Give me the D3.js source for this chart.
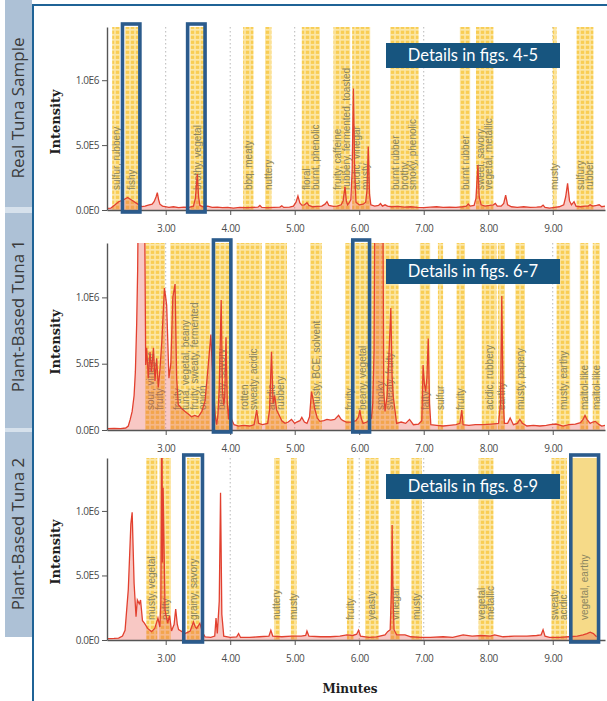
<!DOCTYPE html>
<html><head><meta charset="utf-8">
<script src="https://cdn.jsdelivr.net/npm/d3@7"></script>
<style>body{margin:0;background:#fff;} svg{display:block;}</style>
</head><body>
<script>
// ---------------- DATA ----------------
const minutes = [3, 4, 5, 6, 7, 8, 9];
const minuteLabels = ["3.00", "4.00", "5.00", "6.00", "7.00", "8.00", "9.00"];
const yTickValues = [0, 5, 10];               // intensity in units of 1E5
const yTickLabels = ["0.0E0", "5.0E5", "1.0E6"];
const sampleNames = ["Real Tuna Sample", "Plant-Based Tuna 1", "Plant-Based Tuna 2"];
const detailTexts = ["Details in figs. 4-5", "Details in figs. 6-7", "Details in figs. 8-9"];

// chromatogram traces: [minutes, intensity / 1E5]
const trace1 = [[2.09,0.12],[2.15,0.15],[2.21,0.38],[2.27,0.64],[2.34,0.77],[2.41,0.97],[2.47,0.77],[2.55,0.51],[2.63,0.26],[2.68,0.3],[2.73,0.38],[2.79,0.45],[2.82,0.64],[2.85,1.0],[2.87,1.33],[2.89,0.8],[2.91,0.45],[2.95,0.3],[2.99,0.26],[3.05,0.2],[3.12,0.25],[3.2,0.18],[3.28,0.22],[3.36,0.2],[3.43,0.3],[3.46,0.9],[3.49,2.77],[3.51,1.0],[3.53,0.35],[3.58,0.25],[3.65,0.3],[3.72,0.2],[3.8,0.22],[3.88,0.18],[3.96,0.2],[4.05,0.15],[4.15,0.2],[4.25,0.18],[4.35,0.2],[4.43,0.22],[4.46,0.35],[4.49,0.2],[4.58,0.18],[4.68,0.2],[4.77,0.22],[4.8,0.32],[4.83,0.2],[4.92,0.22],[4.98,0.3],[5.02,0.6],[5.05,1.08],[5.08,0.55],[5.11,0.38],[5.15,0.4],[5.19,0.56],[5.22,0.35],[5.28,0.25],[5.35,0.28],[5.42,0.3],[5.47,0.45],[5.5,0.64],[5.53,0.35],[5.6,0.28],[5.66,0.3],[5.72,0.4],[5.75,0.7],[5.78,1.8],[5.8,0.7],[5.82,0.4],[5.85,0.6],[5.87,0.8],[5.89,3.0],[5.91,9.36],[5.93,3.0],[5.95,0.6],[6.0,0.4],[6.06,0.45],[6.1,0.6],[6.12,1.5],[6.14,4.9],[6.16,1.2],[6.18,0.4],[6.24,0.3],[6.3,0.35],[6.33,0.5],[6.36,0.3],[6.4,0.4],[6.44,0.3],[6.5,0.25],[6.6,0.28],[6.7,0.22],[6.8,0.25],[6.9,0.2],[7.0,0.18],[7.1,0.22],[7.2,0.25],[7.3,0.2],[7.4,0.22],[7.5,0.2],[7.6,0.25],[7.66,0.3],[7.69,0.46],[7.72,0.3],[7.78,0.35],[7.81,0.9],[7.84,3.46],[7.86,1.0],[7.89,0.4],[7.95,0.3],[8.02,0.35],[8.08,0.4],[8.11,0.51],[8.14,0.3],[8.2,0.3],[8.24,0.5],[8.27,1.15],[8.3,0.4],[8.36,0.25],[8.45,0.2],[8.55,0.25],[8.65,0.2],[8.75,0.22],[8.82,0.25],[8.85,0.38],[8.88,0.2],[8.95,0.15],[9.03,0.2],[9.1,0.25],[9.17,0.4],[9.2,1.0],[9.23,2.05],[9.26,0.7],[9.29,0.4],[9.33,0.64],[9.36,0.3],[9.43,0.25],[9.5,0.3],[9.55,0.3],[9.58,0.4],[9.62,0.3],[9.68,0.35],[9.72,0.4],[9.76,0.25],[9.81,0.3]];

const trace2 = [[2.09,0.1],[2.2,0.12],[2.3,0.1],[2.38,0.15],[2.42,0.3],[2.45,0.8],[2.48,1.4],[2.51,2.6],[2.53,4.4],[2.55,8.0],[2.565,12.0],[2.58,20],[2.62,30],[2.66,25],[2.68,12],[2.69,4.9],[2.705,6.2],[2.73,3.9],[2.757,5.9],[2.78,4.4],[2.81,6.2],[2.834,3.7],[2.86,5.4],[2.885,3.2],[2.91,4.5],[2.94,6.7],[2.98,10.7],[3.0,10.0],[3.015,9.4],[3.05,3.9],[3.08,5.0],[3.11,10.0],[3.145,11.0],[3.17,3.9],[3.195,1.9],[3.25,1.6],[3.3,1.4],[3.35,1.2],[3.4,1.0],[3.45,1.1],[3.505,1.0],[3.56,1.4],[3.61,2.2],[3.66,4.9],[3.70,7.2],[3.72,5.0],[3.74,3.2],[3.77,1.0],[3.79,0.4],[3.81,1.2],[3.83,3.2],[3.86,9.8],[3.88,3.0],[3.9,1.9],[3.915,2.5],[3.935,7.0],[3.955,2.0],[3.975,0.8],[4.0,2.9],[4.02,0.8],[4.06,0.4],[4.13,0.3],[4.2,0.35],[4.3,0.3],[4.37,0.4],[4.41,1.5],[4.44,0.5],[4.5,0.4],[4.58,0.5],[4.61,1.5],[4.64,5.9],[4.665,2.0],[4.69,2.6],[4.72,1.5],[4.75,1.2],[4.8,0.7],[4.85,0.5],[4.9,0.6],[4.95,0.8],[5.0,0.5],[5.03,0.6],[5.08,0.7],[5.11,0.95],[5.15,0.6],[5.19,0.5],[5.23,1.0],[5.26,2.9],[5.29,2.2],[5.31,1.6],[5.35,0.9],[5.39,0.65],[5.45,0.7],[5.5,0.8],[5.56,0.75],[5.62,0.8],[5.68,1.1],[5.72,0.8],[5.75,0.7],[5.8,0.6],[5.88,0.6],[5.95,0.7],[5.99,1.0],[6.01,1.5],[6.03,0.9],[6.06,0.5],[6.12,0.6],[6.19,0.9],[6.21,2.0],[6.23,6.0],[6.25,25],[6.28,40],[6.33,40],[6.36,25],[6.38,3.0],[6.40,1.4],[6.43,2.5],[6.45,4.4],[6.49,9.2],[6.51,4.0],[6.53,2.4],[6.58,0.5],[6.65,0.6],[6.72,0.5],[6.78,0.8],[6.84,0.4],[6.92,0.45],[6.97,0.7],[6.99,4.9],[7.01,3.5],[7.03,2.9],[7.05,4.0],[7.07,6.9],[7.09,2.0],[7.11,0.4],[7.2,0.35],[7.3,0.3],[7.4,0.35],[7.5,0.4],[7.56,0.5],[7.59,1.5],[7.61,0.4],[7.7,0.35],[7.8,0.4],[7.92,0.4],[8.05,0.45],[8.16,0.5],[8.19,2.0],[8.21,10.1],[8.23,2.5],[8.25,0.5],[8.3,0.5],[8.34,0.9],[8.39,0.4],[8.45,0.5],[8.49,0.8],[8.53,0.5],[8.6,0.3],[8.7,0.35],[8.8,0.3],[8.9,0.35],[8.96,0.4],[9.05,0.45],[9.16,0.3],[9.25,0.4],[9.35,0.45],[9.43,0.55],[9.47,0.8],[9.5,1.1],[9.53,0.8],[9.58,0.5],[9.62,0.6],[9.66,0.65],[9.72,0.4],[9.76,0.3],[9.81,0.35]];

const trace3 = [[2.09,0.1],[2.2,0.12],[2.27,0.15],[2.33,0.3],[2.37,0.75],[2.42,3.9],[2.46,9.0],[2.48,9.9],[2.51,4.4],[2.54,1.8],[2.56,3.1],[2.59,2.8],[2.61,3.1],[2.64,1.5],[2.67,1.3],[2.72,0.9],[2.78,0.65],[2.83,0.9],[2.88,1.7],[2.91,1.0],[2.925,3.0],[2.94,20],[2.95,6.0],[2.96,11.8],[2.99,2.3],[3.03,1.3],[3.06,1.9],[3.09,0.7],[3.13,1.2],[3.155,2.4],[3.18,1.2],[3.2,0.8],[3.3,0.5],[3.38,0.7],[3.43,1.4],[3.46,1.0],[3.48,0.9],[3.53,1.3],[3.57,0.6],[3.61,0.25],[3.7,0.2],[3.76,0.3],[3.78,1.7],[3.8,0.5],[3.83,3.0],[3.85,11.4],[3.87,2.0],[3.9,0.3],[4.0,0.2],[4.1,0.25],[4.13,0.5],[4.16,0.2],[4.3,0.2],[4.45,0.25],[4.6,0.3],[4.63,0.75],[4.66,0.3],[4.8,0.25],[4.95,0.3],[5.1,0.3],[5.17,0.35],[5.19,0.7],[5.22,0.3],[5.4,0.25],[5.55,0.25],[5.7,0.3],[5.81,0.4],[5.9,0.35],[5.96,0.45],[5.99,0.75],[6.02,0.3],[6.15,0.2],[6.27,0.25],[6.4,0.4],[6.44,0.65],[6.48,0.8],[6.50,4.0],[6.51,8.9],[6.525,3.0],[6.54,0.8],[6.58,0.4],[6.71,0.4],[6.8,0.25],[6.95,0.2],[7.1,0.2],[7.3,0.25],[7.45,0.2],[7.61,0.4],[7.75,0.3],[7.9,0.35],[8.03,0.3],[8.1,0.4],[8.23,0.25],[8.4,0.3],[8.6,0.3],[8.75,0.35],[8.82,0.4],[8.85,0.8],[8.88,0.3],[8.95,0.2],[9.1,0.2],[9.25,0.25],[9.38,0.3],[9.47,0.4],[9.53,0.5],[9.58,0.6],[9.63,0.5],[9.68,0.25]];

// odor bands: [start min, end min, label lines]
const bands1 = [
  [2.17,2.29,["sulfur, rubbery"]],
  [2.37,2.58,["fishy"]],
  [3.38,3.61,["brothy, vegetal"]],
  [4.20,4.36,["bbq, meaty"]],
  [4.54,4.64,["nuttery"]],
  [5.11,5.39,["floral","burnt, phenolic"]],
  [5.60,5.86,["fruity, caffeine","rubbery, fermented, toasted"]],
  [5.89,6.17,["acidic, vinegar","musty"]],
  [6.48,6.92,["burnt rubber","brothy,","smoky, phenolic"]],
  [7.56,7.72,["burnt rubber"]],
  [7.81,8.08,["sweet, savory","vegetal, metallic"]],
  [9.00,9.06,["musty"]],
  [9.37,9.63,["sulfury","rubber"]]
];
const bands2 = [
  [2.68,2.99,["sour, vinegar","fruity"]],
  [3.07,3.69,["fruity","tuna, vegetal, beany","fruity, sweaty, fermented","onion"]],
  [3.74,4.00,["beany, savory"]],
  [4.10,4.49,["rotten","sweaty, acidic"]],
  [4.54,4.88,["acidic","rubbery"]],
  [5.24,5.42,["musty, BCE, solvent"]],
  [5.78,5.91,["fruity"]],
  [5.93,6.16,["beany, vegetal"]],
  [6.19,6.61,["smoky","sweaty, fruity"]],
  [6.94,7.10,["fatty"]],
  [7.22,7.30,["sulfur"]],
  [7.51,7.64,["fruity"]],
  [7.90,8.13,["acidic, rubbery"]],
  [8.15,8.26,["earthy"]],
  [8.42,8.57,["musty, papery"]],
  [9.06,9.27,["musty, earthy"]],
  [9.42,9.55,["maltol-like"]],
  [9.62,9.73,["maltol-like"]]
];
const bands3 = [
  [2.70,2.87,["musty, vegetal"]],
  [2.90,3.08,["nutty"]],
  [3.33,3.53,["grainy, savory"]],
  [4.68,4.77,["nuttery"]],
  [4.94,5.03,["musty"]],
  [5.81,5.91,["fruity"]],
  [6.09,6.30,["yeasty"]],
  [6.48,6.63,["vinegar"]],
  [6.81,6.97,["musty"]],
  [7.85,8.08,["vegetal","metallic"]],
  [8.98,9.22,["sweaty","acidic"]]
];
const solidBands3 = [[9.28,9.70,["vegetal, earthy"]]];

// highlighted regions (blue frames): [start min, end min]
const boxes1 = [[2.33,2.60],[3.34,3.61]];
const boxes2 = [[3.74,4.01],[5.90,6.16]];
const boxes3 = [[3.28,3.57],[9.28,9.71]];

// ---------------- DRAW ----------------
const W = 607, H = 701;
const svg = d3.select("body").append("svg").attr("width", W).attr("height", H);
const defs = svg.append("defs");
const pat = defs.append("pattern").attr("id","dots").attr("width",5).attr("height",5)
  .attr("patternUnits","userSpaceOnUse");
pat.append("rect").attr("width",5).attr("height",5).attr("fill","#fce7a6");
pat.append("rect").attr("x",0.8).attr("y",0.7).attr("width",3.4).attr("height",3.2).attr("fill","#f8cd54");

// left tabs
svg.append("rect").attr("x",5).attr("y",0).attr("width",27).attr("height",637).attr("fill","#d6e1ec");
const tabs = [[0,207],[213,428],[432,637]];
const tabCenters = [108, 316, 534];
tabs.forEach((t,i)=>{
  svg.append("rect").attr("x",5).attr("y",t[0]).attr("width",27).attr("height",t[1]-t[0]).attr("fill","#adc1d6");
  svg.append("text").attr("transform",`translate(18.5,${tabCenters[i]}) rotate(-90)`)
    .attr("text-anchor","middle").attr("dy","0.35em")
    .style("font-family","'Open Sans', sans-serif").style("font-size","17px").attr("fill","#3a3a3a")
    .text(sampleNames[i]);
});
// frame
svg.append("path").attr("d","M33,701 V5 H607").attr("stroke","#1f6396").attr("stroke-width",2).attr("fill","none");

const x = d3.scaleLinear().domain([2.09, 9.81]).range([107, 605]);
const panels = [
  {top:27, zero:210, trace:trace1, bands:bands1, solid:[], boxes:boxes1, detailY:43},
  {top:243, zero:430, trace:trace2, bands:bands2, solid:[], boxes:boxes2, detailY:259},
  {top:458, zero:640, trace:trace3, bands:bands3, solid:solidBands3, boxes:boxes3, detailY:474}
];

panels.forEach((p, pi)=>{
  const y = d3.scaleLinear().domain([0, 14.1]).range([p.zero, p.top]);
  const g = svg.append("g");
  const cid = "clip"+pi;
  defs.append("clipPath").attr("id",cid).append("rect")
    .attr("x",107).attr("y",p.top).attr("width",605-107).attr("height",p.zero-p.top+0.5);

  // grid
  g.selectAll(".grid").data(minutes).join("line")
    .attr("x1",d=>x(d)).attr("x2",d=>x(d)).attr("y1",p.top).attr("y2",p.zero)
    .attr("stroke","#b8b8b8").attr("stroke-width",1).attr("stroke-dasharray","1.5,2.5");

  // bands
  const allBands = p.bands.map(b=>({b, solid:false})).concat(p.solid.map(b=>({b, solid:true})));
  g.selectAll(".band").data(allBands).join("rect")
    .attr("x",d=>x(d.b[0])).attr("width",d=>x(d.b[1])-x(d.b[0]))
    .attr("y",p.top).attr("height",p.zero-p.top)
    .attr("fill",d=>d.solid ? "#f6da88" : "url(#dots)");

  // band labels
  const lg = g.append("g").attr("clip-path",`url(#${cid})`);
  allBands.forEach(d=>{
    const cx = (x(d.b[0])+x(d.b[1]))/2;
    const n = d.b[2].length;
    d.b[2].forEach((s,i)=>{
      const lx = cx + (i-(n-1)/2)*8.5;
      lg.append("text").attr("transform",`translate(${lx},${p.zero-20}) rotate(-90)`)
        .attr("dy","0.35em").attr("text-anchor","start")
        .style("font-family","'Liberation Sans', Arial, sans-serif").style("font-size","10px")
        .attr("fill","#8a8560").text(s);
    });
  });

  // trace
  const tg = g.append("g").attr("clip-path",`url(#${cid})`);
  tg.append("path").datum(p.trace)
    .attr("d", d3.area().x(d=>x(d[0])).y0(p.zero).y1(d=>y(d[1])))
    .attr("fill","rgba(232,72,60,0.3)");
  tg.append("path").datum(p.trace)
    .attr("d", d3.line().x(d=>x(d[0])).y(d=>y(d[1])))
    .attr("fill","none").attr("stroke","#e2402f").attr("stroke-width",1.3);

  // axes
  const ya = g.append("g").attr("transform","translate(107,0)")
    .call(d3.axisLeft(y).tickValues(yTickValues).tickFormat((d,i)=>yTickLabels[i]).tickSize(5).tickSizeOuter(0).tickPadding(3));
  const xa = g.append("g").attr("transform",`translate(0,${p.zero})`)
    .call(d3.axisBottom(x).tickValues(minutes).tickFormat((d,i)=>minuteLabels[i]).tickSize(5).tickSizeOuter(0).tickPadding(10));
  [ya, xa].forEach(a=>{
    a.select(".domain").attr("stroke","#555").attr("stroke-width",1.4);
    a.selectAll(".tick line").attr("stroke","#555");
    a.selectAll(".tick text").attr("fill","#4a4a4a")
      .style("font-family","'Open Sans', sans-serif").style("font-size","10px").style("letter-spacing","-0.4px");
  });

  // highlight boxes
  g.selectAll(".hbox").data(p.boxes).join("rect")
    .attr("x",d=>x(d[0])).attr("width",d=>x(d[1])-x(d[0]))
    .attr("y",p.top-3).attr("height",p.zero-p.top+5)
    .attr("fill","none").attr("stroke","#2b5b8c").attr("stroke-width",3.6);

  // details box
  g.append("rect").attr("x",386).attr("y",p.detailY).attr("width",174).attr("height",25).attr("fill","#17557f");
  g.append("text").attr("x",473).attr("y",p.detailY+12.5).attr("dy","0.36em").attr("text-anchor","middle")
    .style("font-family","Lato, 'Open Sans', sans-serif").style("font-size","16.5px").attr("fill","#fff")
    .text(detailTexts[pi]);

  // y label
  g.append("text").attr("transform",`translate(55,${p.zero-88}) rotate(-90)`)
    .attr("text-anchor","middle").attr("dy","0.35em")
    .style("font-family","'DejaVu Serif', serif").style("font-weight","bold").style("font-size","13px")
    .attr("fill","#1e1e1e").text("Intensity");
});

svg.append("text").attr("x",350).attr("y",693).attr("text-anchor","middle")
  .style("font-family","'DejaVu Serif', serif").style("font-weight","bold").style("font-size","12px")
  .attr("fill","#1e1e1e").text("Minutes");
</script>
</body></html>
